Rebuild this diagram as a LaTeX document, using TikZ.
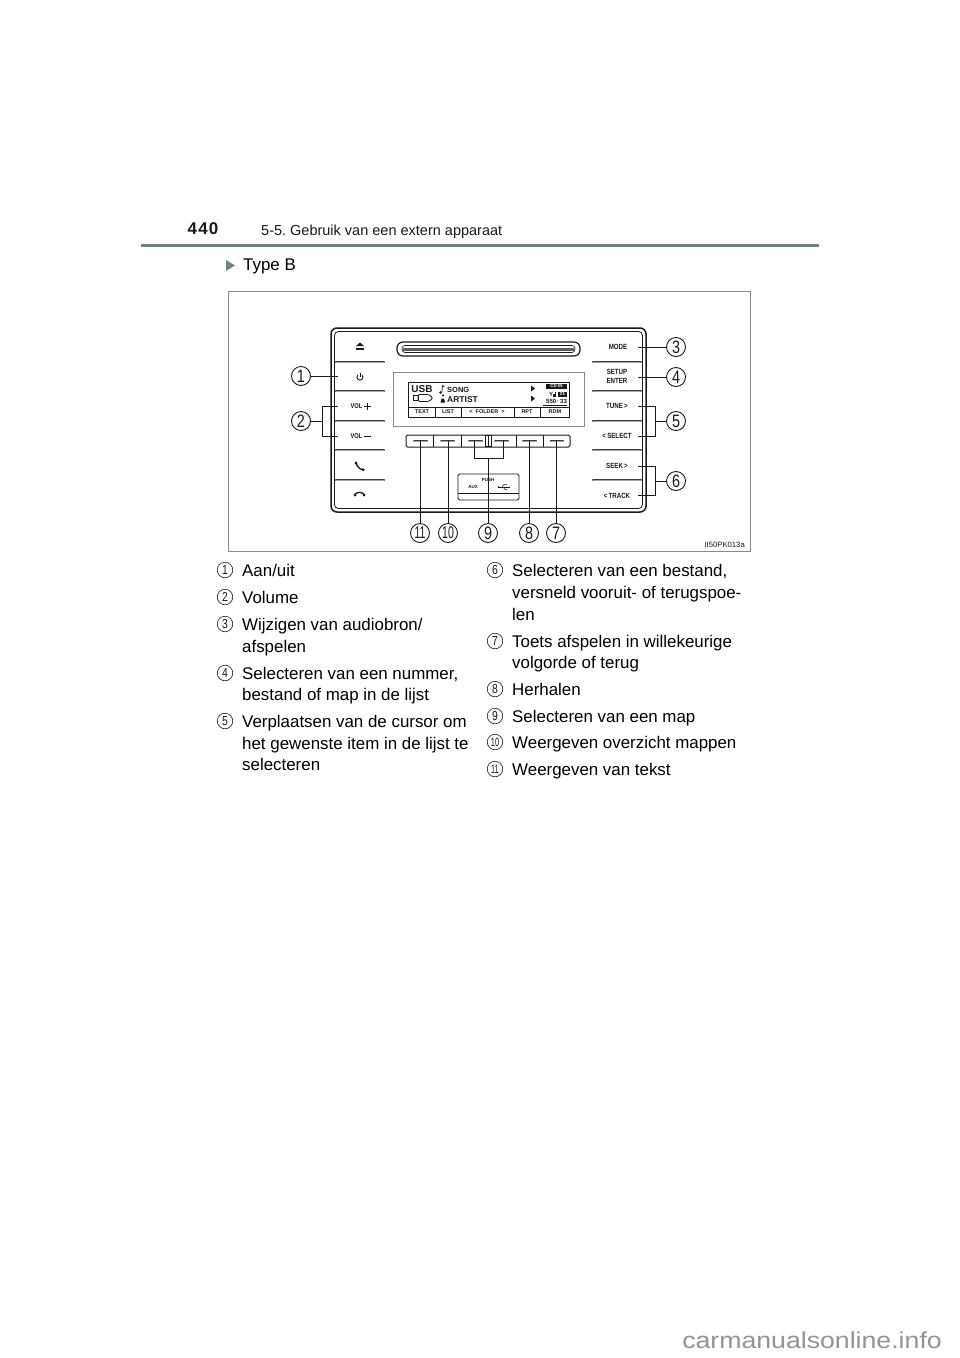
\documentclass[tikz,border=0pt]{standalone}
\usepackage{fontspec}
\setmainfont{Liberation Sans}
\newfontfamily\narrowf[FakeStretch=0.8]{Liberation Sans}
\newfontfamily\narrowg[FakeStretch=0.62]{Liberation Sans}
\newfontfamily\narrowb[FakeStretch=0.82]{Liberation Sans Bold}
\newfontfamily\widef[FakeStretch=1.16]{Liberation Sans}
\usetikzlibrary{calc}
\definecolor{rulec}{HTML}{6F8480}
\definecolor{ink}{HTML}{1A1A1A}
\definecolor{framec}{HTML}{8A8A8A}
\tikzset{
  x=1pt,y=-1pt,
  body/.style={anchor=base west,inner sep=0pt,font=\fontsize{16.9}{20}\selectfont,text=black},
  num/.style={circle,draw=ink,line width=0.6pt,minimum size=15.5pt,inner sep=0pt,font=\narrowf\fontsize{13}{13}\selectfont,text=ink},
  numw/.style={num,font=\narrowg\fontsize{12}{12}\selectfont},
  bignum/.style={circle,draw=ink,line width=0.9pt,fill=white,minimum size=19pt,inner sep=0pt,font=\narrowf\fontsize{18}{18}\selectfont,text=ink},
  bignumw/.style={bignum,font=\narrowg\fontsize{17}{17}\selectfont},
  wire/.style={draw=ink,line width=0.8pt},
  panel/.style={font=\narrowb\fontsize{7.5}{8.5}\selectfont,inner sep=0pt,align=center,text=ink},
  lcd/.style={font=\bfseries\fontsize{5.5}{6}\selectfont,inner sep=0pt,text=ink},
  capsule/.style={line width=2.3pt,draw=ink!85,line cap=round},
  capsulein/.style={line width=0.5pt,draw=black!35,line cap=round},
}
\begin{document}
\frenchspacing
\begin{tikzpicture}
\useasboundingbox (0,0) rectangle (960,1358);
\fill[white] (0,0) rectangle (960,1358);
% header
\node[anchor=base,inner sep=0pt,font=\bfseries\fontsize{17}{20}\selectfont,text=ink] (pg) at (203,234) {4\hspace{1.2pt}4\hspace{1.2pt}0};
\node[anchor=base west,inner sep=0pt,font=\fontsize{14.5}{16}\selectfont,text=ink] (sec) at (261,235) {5-5. Gebruik van een extern apparaat};
\draw[rulec,line width=2.6pt] (141,245.5) -- (819,245.5);
\fill[rulec] (226,260) -- (235,265.5) -- (226,271) -- cycle;
\node[body] (typeb) at (243,270.5) {Type B};
% frame
\draw[framec,line width=0.8pt] (228,291) rectangle (750,551);
\node[anchor=base east,inner sep=0pt,font=\fontsize{7.7}{9}\selectfont,text=ink] (code) at (745,547) {II50PK013a};
% radio body
\draw[ink,line width=1.5pt,rounded corners=6pt] (331,328) rectangle (646,512);
% slot
\draw[ink,line width=1.2pt,rounded corners=6pt] (397,342) rectangle (580,356);
\draw[ink,line width=0.6pt,rounded corners=3pt,fill=white] (402,345.5) rectangle (575,352.5);
\fill[ink!70] (403,347.5) rectangle (574,350.5);
% button lines
\foreach \yy in {362,391,421,450,480} {
  \draw[capsule] (336,\yy) -- (384,\yy);
  \draw[capsulein] (336,\yy) -- (384,\yy);
  \draw[capsule] (593,\yy) -- (641,\yy);
  \draw[capsulein] (593,\yy) -- (641,\yy);
}
\draw[ink,line width=0.8pt,rounded corners=4pt] (334.5,331.5) rectangle (642.5,508.5);
% display panel
\draw[framec,line width=0.7pt] (393,372) rectangle (584,426);
\draw[ink,line width=1pt] (408,382) rectangle (569,417);
\draw[ink,line width=0.7pt] (408,407) -- (569,407);
\foreach \xx in {435,461,514,540} \draw[ink,line width=0.8pt] (\xx,407) -- (\xx,417);
\node[lcd] (t1) at (422,412) {TEXT};
\node[lcd] (t2) at (448,412) {LIST};
\node[lcd] (t3) at (487,412) {<\ \ FOLDER\ \ >};
\node[lcd] (t4) at (527,412) {RPT};
\node[lcd] (t5) at (555,412) {RDM};
\node[font=\bfseries\fontsize{10}{11}\selectfont,inner sep=0pt,text=ink] (usb) at (422,389) {USB};
\node[anchor=west,font=\bfseries\fontsize{7.5}{9}\selectfont,inner sep=0pt,text=ink] (song) at (447,389.5) {SONG};
\node[anchor=west,font=\bfseries\fontsize{8.5}{9}\selectfont,inner sep=0pt,text=ink] (artist) at (447,399.5) {ARTIST};
% music note and person
\fill[ink] (440.5,392.5) circle (1.4pt);
\draw[ink,line width=0.7pt] (441.8,392.5) -- (442.5,385.5) -- (444.5,387);
\fill[ink] (443,395.5) circle (1.1pt);
\fill[ink] (440.5,402.5) -- (441.5,398.5) -- (444,398.5) -- (445,402.5) -- cycle;
% battery
\draw[ink,line width=0.6pt] (413,395.5) rectangle (418,400.5);
\draw[ink,line width=0.8pt,rounded corners=1.5pt] (418,394.5) -- (429,394.5) -- (433,398) -- (429,401.5) -- (418,401.5) -- cycle;
% arrows in display
\fill[ink] (531,385.5) -- (535,388.5) -- (531,391.5) -- cycle;
\fill[ink] (531,395.5) -- (535,398.5) -- (531,401.5) -- cycle;
% indicators
\fill[ink] (546,383.5) rectangle (567,389);
\node[font=\bfseries\fontsize{4.5}{5}\selectfont,text=white,inner sep=0pt] (cdin) at (556.5,386.3) {CD IN};
\node[font=\bfseries\fontsize{6}{7}\selectfont,inner sep=0pt,text=ink] (sig) at (551,394.5) {Y};
\fill[ink] (553,394) rectangle (554.5,397);
\fill[ink] (555,392) rectangle (556,397);
\fill[ink] (558,391.5) rectangle (567,397);
\node[font=\bfseries\fontsize{4.5}{5}\selectfont,text=white,inner sep=0pt] (ch) at (562.5,394.3) {01};
\node[font=\bfseries\fontsize{6}{7}\selectfont,inner sep=0pt,text=ink] (clock) at (556.5,401.5) {550\,·\,33};
\draw[ink,line width=0.5pt] (543,405) -- (567,405);
% lower button row
\draw[ink,line width=1pt,rounded corners=1.5pt] (406,435) rectangle (570,447);
\foreach \xx in {433,461,516,543} \draw[ink,line width=0.8pt] (\xx,435) -- (\xx,447);
\draw[ink,line width=0.7pt] (485.5,435.5) rectangle (491,446.5);
\draw[ink,line width=0.6pt] (488,435.5) -- (488,446.5);
\foreach \xa/\xb in {414/427,441/454,469/482,495/508,523/536,550.5/563}{
  \draw[ink!85,line width=2pt,line cap=round] (\xa,441) -- (\xb,441);
  \draw[black!35,line width=0.5pt,line cap=round] (\xa,441) -- (\xb,441);
}
% aux box
\draw[ink,line width=0.9pt,rounded corners=1.5pt] (458,474) rectangle (519,500);
\draw[ink,line width=0.6pt] (458,493) -- (519,493);
\node[font=\bfseries\fontsize{4.5}{5}\selectfont,inner sep=0pt,text=ink] (push) at (488,479.5) {PUSH};
\node[font=\bfseries\fontsize{4.5}{5}\selectfont,inner sep=0pt,text=ink] (aux) at (473,487) {AUX};
% usb icon
\draw[ink,line width=0.6pt] (498.5,487) -- (510,487);
\fill[ink] (498.5,487) circle (1pt);
\draw[ink,line width=0.5pt] (502,487) -- (504,484.5) -- (507,484.5);
\draw[ink,line width=0.5pt] (503,487) -- (505,489.5) -- (507,489.5);
% left icons
\fill[ink] (356,346) -- (360,342.5) -- (364,346) -- cycle;
\fill[ink] (356,347.5) rectangle (364,349.5);
\draw[ink,line width=0.9pt] (357.8,375) arc[start angle=135,delta angle=270,radius=3pt];
\draw[ink,line width=0.9pt] (360,373) -- (360,377);
\draw[ink,line width=1.3pt,line cap=round] (356,462) .. controls (356.5,466) and (359,469.5) .. (364,470);
\fill[ink] (356,463) circle (1.5pt) (363,469.5) circle (1.5pt);
\draw[ink,line width=1.3pt,line cap=round] (354.5,495) .. controls (356.5,491.5) and (362.5,491.5) .. (364.5,495);
\fill[ink] (355,495) circle (1.5pt) (364,495) circle (1.5pt);
% panel labels
\node[panel,font=\narrowb\fontsize{7}{8}\selectfont] (vp) at (356.5,406.5) {VOL};
\node[panel,font=\narrowb\fontsize{7}{8}\selectfont] (vm) at (356.5,436.5) {VOL};
\draw[ink,line width=1pt] (364,406.5) -- (370.5,406.5) (367.2,403.2) -- (367.2,409.8);
\draw[ink,line width=1pt] (364,436.5) -- (370.5,436.5);
\node[panel] (mode) at (618,347) {MODE};
\node[panel] (setup) at (617,376.5) {SETUP\\ENTER};
\node[panel] (tune) at (617,406) {TUNE\,>};
\node[panel] (sel) at (617,436) {<\,SELECT};
\node[panel] (seek) at (617,466) {SEEK\,>};
\node[panel] (track) at (617,495.5) {<\,TRACK};
% callouts
\node[bignum] (c1) at (301,376) {1};
\node[bignum] (c2) at (301,421) {2};
\node[bignum] (c3) at (676,347) {3};
\node[bignum] (c4) at (676,377) {4};
\node[bignum] (c5) at (676,421) {5};
\node[bignum] (c6) at (676,481) {6};
\node[bignum] (c7) at (556,533) {7};
\node[bignum] (c8) at (529,533) {8};
\node[bignum] (c9) at (488,533) {9};
\node[bignumw] (c10) at (448,533) {10};
\node[bignumw] (c11) at (420,533) {11};
\coordinate (a1) at (338,376);
\draw[wire] (c1) -- (a1);
\coordinate (b2) at (322,421);
\draw[wire] (c2) -- (b2);
\draw[wire] (338,406) -- (322,406) -- (322,436) -- (338,436);
\coordinate (a3) at (638,347);
\draw[wire] (c3) -- (a3);
\coordinate (a4) at (638,377);
\draw[wire] (c4) -- (a4);
\coordinate (b5) at (655,421);
\draw[wire] (c5) -- (b5);
\draw[wire] (638,406) -- (655,406) -- (655,436) -- (638,436);
\coordinate (b6) at (655,481);
\draw[wire] (c6) -- (b6);
\draw[wire] (638,466) -- (655,466) -- (655,495) -- (638,495);
\coordinate (a7) at (556,441);
\coordinate (a8) at (529,441);
\coordinate (b9) at (488,458);
\coordinate (a10) at (448,441);
\coordinate (a11) at (420,441);
\draw[wire] (c7) -- (a7);
\draw[wire] (c8) -- (a8);
\draw[wire] (c9) -- (b9);
\draw[wire] (c10) -- (a10);
\draw[wire] (c11) -- (a11);
\draw[wire] (474.5,441) -- (474.5,458) -- (503,458) -- (503,441);
% list
\node[num] (n1) at (225,570) {1};
\node[num] (n2) at (225,597) {2};
\node[num] (n3) at (225,624) {3};
\node[num] (n4) at (225,673) {4};
\node[num] (n5) at (225,721) {5};
\node[num] (n6) at (495,570) {6};
\node[num] (n7) at (495,641) {7};
\node[num] (n8) at (495,689) {8};
\node[num] (n9) at (495,716) {9};
\node[numw] (n10) at (495,742) {10};
\node[numw] (n11) at (495,769) {11};
\node[body] (l1) at (242,576) {Aan/uit};
\node[body] (l2) at (242,603) {Volume};
\node[body] (l3) at (242,630) {Wijzigen van audiobron/};
\node[body] (l3b) at (242,652) {afspelen};
\node[body] (l4) at (242,679) {Selecteren van een nummer,};
\node[body] (l4b) at (242,700) {bestand of map in de lijst};
\node[body] (l5) at (242,727) {Verplaatsen van de cursor om};
\node[body] (l5b) at (242,749) {het gewenste item in de lijst te};
\node[body] (l5c) at (242,770) {selecteren};
\node[body] (r1) at (512,576) {Selecteren van een bestand,};
\node[body] (r1b) at (512,598) {versneld vooruit- of terugspoe-};
\node[body] (r1c) at (512,620) {len};
\node[body] (r2) at (512,647) {Toets afspelen in willekeurige};
\node[body] (r2b) at (512,668) {volgorde of terug};
\node[body] (r3) at (512,695) {Herhalen};
\node[body] (r4) at (512,722) {Selecteren van een map};
\node[body] (r5) at (512,748) {Weergeven overzicht mappen};
\node[body] (r6) at (512,775) {Weergeven van tekst};
% watermark
\node[anchor=base east,inner sep=0pt,font=\widef\fontsize{23}{26}\selectfont,text=black!42] (wm) at (942,1348) {carmanualsonline.info};
\end{tikzpicture}
\end{document}
